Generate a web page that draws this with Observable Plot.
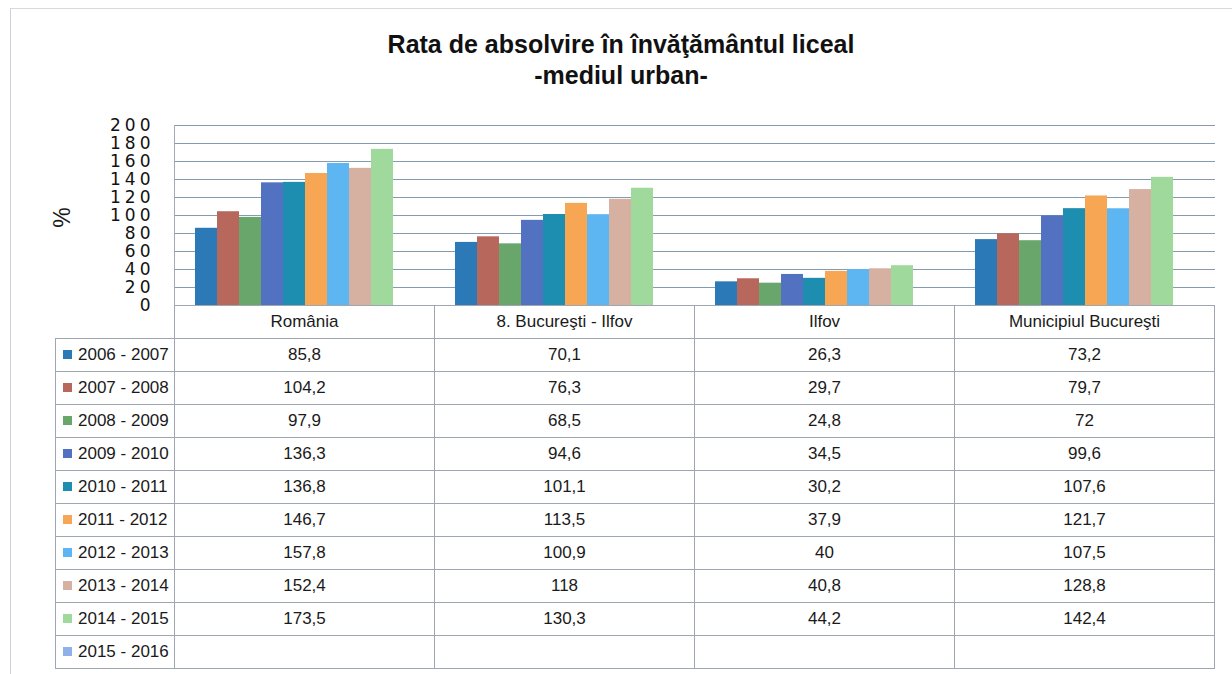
<!DOCTYPE html>
<html>
<head>
<meta charset="utf-8">
<script src="https://cdn.jsdelivr.net/npm/d3@7"></script>
<script src="https://cdn.jsdelivr.net/npm/@observablehq/plot@0.6"></script>
<style>
  html, body { margin: 0; padding: 0; background: #fff; }
  #page { position: relative; width: 1232px; height: 674px; overflow: hidden; font-family: "Liberation Sans", Arial, sans-serif; color: #1a1a1a; }
  #frame { position: absolute; left: 10px; top: 8px; width: 1230px; height: 700px; border-top: 1px solid #d4dae0; border-left: 1px solid #c9d2dc; }
  #title { position: absolute; left: 5px; width: 1232px; top: 29px; text-align: center; font-weight: bold; font-size: 25px; line-height: 31px; color: #111; }
  #chart { position: absolute; left: 0; top: 110px; }
  #plotleft { position: absolute; left: 174px; top: 125px; height: 180px; border-left: 1px solid #a3aab2; }
  #ylabel { position: absolute; left: 48px; top: 204px; font-size: 23px; transform: rotate(-90deg); transform-origin: center; width: 28px; text-align: center; }
  #tbl { position: absolute; left: 55px; top: 305px; border-collapse: collapse; font-size: 17px; }
  #tbl td { height: 32px; padding: 0; border: 1px solid #9ea7b1; text-align: center; white-space: nowrap; }
  #tbl td.lg { text-align: left; padding-left: 7px; width: 111px; }
  #tbl td.blank { border-top: none; border-left: none; border-bottom: 1px solid #9ea7b1; }
  #tbl td.val { width: 259px; }
  .sw { display: inline-block; width: 9px; height: 9px; margin-right: 6px; vertical-align: 1px; }
</style>
</head>
<body>
<div id="page">
  <div id="frame"></div>
  <div id="title">Rata de absolvire în învăţământul liceal<br>-mediul urban-</div>
  <div id="chart"></div>
  <div id="plotleft"></div>
  <div id="ylabel">%</div>
  <table id="tbl"></table>
</div>
<script>
// ---- data ----
const categories = ["România", "8. Bucureşti - Ilfov", "Ilfov", "Municipiul Bucureşti"];
const seriesNames = ["2006 - 2007", "2007 - 2008", "2008 - 2009", "2009 - 2010", "2010 - 2011",
                     "2011 - 2012", "2012 - 2013", "2013 - 2014", "2014 - 2015", "2015 - 2016"];
const v2006_2007 = [85.8, 70.1, 26.3, 73.2];
const v2007_2008 = [104.2, 76.3, 29.7, 79.7];
const v2008_2009 = [97.9, 68.5, 24.8, 72];
const v2009_2010 = [136.3, 94.6, 34.5, 99.6];
const v2010_2011 = [136.8, 101.1, 30.2, 107.6];
const v2011_2012 = [146.7, 113.5, 37.9, 121.7];
const v2012_2013 = [157.8, 100.9, 40, 107.5];
const v2013_2014 = [152.4, 118, 40.8, 128.8];
const v2014_2015 = [173.5, 130.3, 44.2, 142.4];
const v2015_2016 = [null, null, null, null];
const seriesValues = [v2006_2007, v2007_2008, v2008_2009, v2009_2010, v2010_2011,
                      v2011_2012, v2012_2013, v2013_2014, v2014_2015, v2015_2016];
const colors = ["#2b79b6", "#b7675c", "#69a66b", "#5271c0", "#1d8db0",
                "#f7a653", "#5db6f1", "#d6b1a2", "#a0d99c", "#8fb1ea"];
const yTicks = [0, 20, 40, 60, 80, 100, 120, 140, 160, 180, 200];

// ---- tidy table ----
const rows = [];
seriesNames.forEach((s, i) => categories.forEach((c, j) => {
  const v = seriesValues[i][j];
  if (v != null) rows.push({series: s, category: c, value: v});
}));

const chart = Plot.plot({
  width: 1232,
  height: 203,
  marginTop: 15,
  marginBottom: 8,
  marginLeft: 174,
  marginRight: 17,
  style: {fontFamily: "DejaVu Sans", fontSize: "17px", background: "transparent", overflow: "visible", color: "#222"},
  fx: {domain: categories, padding: 0, axis: null},
  x: {domain: seriesNames, paddingInner: 0, paddingOuter: 0.8, axis: null},
  y: {domain: [0, 200], axis: null},
  color: {domain: seriesNames, range: colors},
  marks: [
    Plot.gridY(yTicks, {stroke: "#7890a6", strokeOpacity: 0.9, strokeWidth: 1.2}),
    Plot.barY(rows, {fx: "category", x: "series", y: "value", fill: "series"}),
    Plot.axisY(yTicks, {label: null, tickSize: 0, tickPadding: 21, fontSize: 17, fill: "#111"})
  ]
});
document.getElementById("chart").appendChild(chart);
d3.select(chart).selectAll("text").style("letter-spacing", "4px");

// ---- data table ----
const fmt = v => v == null ? "" : String(v).replace(".", ",");
const tbl = d3.select("#tbl");
const head = tbl.append("tr");
head.append("td").attr("class", "blank lg");
categories.forEach(c => head.append("td").attr("class", "val").text(c));
seriesNames.forEach((s, i) => {
  const tr = tbl.append("tr");
  const lg = tr.append("td").attr("class", "lg");
  lg.append("span").attr("class", "sw").style("background", colors[i]);
  lg.append("span").text(s);
  seriesValues[i].forEach(v => tr.append("td").attr("class", "val").text(fmt(v)));
});
</script>
</body>
</html>
